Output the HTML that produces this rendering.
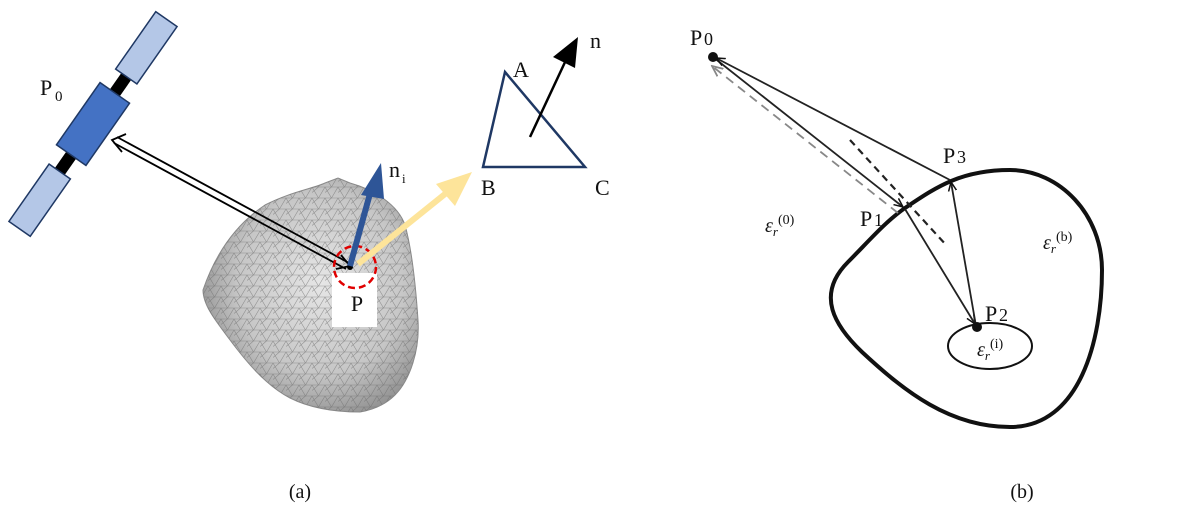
<!DOCTYPE html>
<html><head><meta charset="utf-8"><style>
html,body{margin:0;padding:0;background:#fff;}
svg{display:block;}
text{font-family:"Liberation Serif",serif;fill:#111;}
</style></head><body>
<svg width="1200" height="510" viewBox="0 0 1200 510" xmlns="http://www.w3.org/2000/svg">
<defs>
  <radialGradient id="ag" cx="0.55" cy="0.45" r="0.6">
    <stop offset="0" stop-color="#e6e6e6"/>
    <stop offset="0.65" stop-color="#c6c6c6"/>
    <stop offset="1" stop-color="#909090"/>
  </radialGradient>
  <pattern id="mesh" width="13" height="11" patternUnits="userSpaceOnUse">
    <path d="M0 0 L13 0 M0 11 L13 11 M0 0 L6.5 11 L13 0 M0 5.5 L6.5 0" stroke="#6a6a6a" stroke-width="0.6" fill="none" opacity="0.6"/>
  </pattern>
  <clipPath id="ac"><path d="M203,290 C215,255 235,225 265,205 C290,192 315,188 325,183 L338,178 350,183 C375,190 398,205 405,225 C412,250 416,290 418,320 C420,350 410,380 395,395 C385,405 372,410 360,412 C335,412 310,408 290,398 C265,385 245,360 230,340 C215,320 203,305 203,290 Z"/></clipPath>
  <marker id="ah" viewBox="0 0 10 10" refX="9" refY="5" markerWidth="10" markerHeight="10" markerUnits="userSpaceOnUse" orient="auto">
    <path d="M0,1 L9,5 L0,9" fill="none" stroke="#111" stroke-width="1.5"/>
  </marker>
  <marker id="ahg" viewBox="0 0 10 10" refX="9" refY="5" markerWidth="12" markerHeight="12" markerUnits="userSpaceOnUse" orient="auto">
    <path d="M0,1 L9,5 L0,9" fill="none" stroke="#888" stroke-width="1.5"/>
  </marker>
</defs>

<!-- (a) asteroid -->
<path d="M203,290 C215,255 235,225 265,205 C290,192 315,188 325,183 L338,178 350,183 C375,190 398,205 405,225 C412,250 416,290 418,320 C420,350 410,380 395,395 C385,405 372,410 360,412 C335,412 310,408 290,398 C265,385 245,360 230,340 C215,320 203,305 203,290 Z" fill="url(#ag)" stroke="#8a8a8a" stroke-width="1"/>
<rect x="195" y="170" width="230" height="250" fill="url(#mesh)" clip-path="url(#ac)"/>
<rect x="332" y="273" width="45" height="54" fill="#fff"/>
<text x="357" y="311" font-size="22" text-anchor="middle">P</text>

<!-- satellite -->
<g transform="translate(93,124) rotate(-55)">
  <rect x="38" y="-6" width="22" height="12" fill="#000"/>
  <rect x="-60" y="-6" width="22" height="12" fill="#000"/>
  <rect x="58" y="-13" width="70" height="26" fill="#b4c7e7" stroke="#1f3864" stroke-width="1.5"/>
  <rect x="-128" y="-13" width="70" height="26" fill="#b4c7e7" stroke="#1f3864" stroke-width="1.5"/>
  <rect x="-38" y="-18" width="76" height="36" fill="#4472c4" stroke="#1f3864" stroke-width="1.5"/>
</g>
<text x="40" y="95" font-size="22">P</text><text x="55" y="101" font-size="15">0</text>

<!-- double arrow -->
<g stroke="#000" stroke-width="1.8" fill="none">
  <line x1="114" y1="143" x2="346" y2="269"/>
  <line x1="117" y1="137" x2="349" y2="263"/>
  <path d="M126,134 L112,140 L122,152"/>
  <path d="M336,269 L350,266 L341,255"/>
</g>

<!-- red dashed circle -->
<circle cx="355" cy="267" r="21" fill="none" stroke="#e00000" stroke-width="2.5" stroke-dasharray="7,4"/>
<circle cx="350" cy="267" r="3" fill="#000"/>

<!-- blue n_i arrow -->
<line x1="350" y1="266" x2="371" y2="190" stroke="#2e5597" stroke-width="6"/>
<polygon points="381,163 361,195 384,199" fill="#2e5597"/>
<text x="389" y="177" font-size="22">n</text><text x="402" y="183" font-size="13">i</text>

<!-- yellow arrow -->
<line x1="358" y1="264" x2="450" y2="190" stroke="#fde49a" stroke-width="6"/>
<polygon points="472,172 436,184 455,206" fill="#fde49a"/>

<!-- triangle -->
<polygon points="505,72 483,167 585,167" fill="none" stroke="#1f3864" stroke-width="2.5"/>
<line x1="530" y1="137" x2="566" y2="60" stroke="#000" stroke-width="2.5"/>
<polygon points="578,37 553,57 575,68" fill="#000"/>
<text x="513" y="77" font-size="22">A</text>
<text x="481" y="195" font-size="22">B</text>
<text x="595" y="195" font-size="22">C</text>
<text x="590" y="48" font-size="22">n</text>

<text x="300" y="498" font-size="20" text-anchor="middle">(a)</text>
<text x="1022" y="498" font-size="20" text-anchor="middle">(b)</text>

<!-- (b) -->
<path d="M905,208 C935,188 960,170 1010,170 C1060,170 1102,215 1102,270 C1102,340 1080,427 1010,427 C950,427 905,392 862,352 C835,326 815,295 848,262 C868,242 885,222 905,208 Z" fill="none" stroke="#111" stroke-width="4"/>
<ellipse cx="990" cy="346" rx="42" ry="23" fill="none" stroke="#111" stroke-width="2"/>

<g stroke="#222" stroke-width="1.8" fill="none">
  <line x1="713" y1="57" x2="903" y2="207" marker-end="url(#ah)"/>
  <line x1="950" y1="180" x2="716" y2="58" marker-end="url(#ah)"/>
  <line x1="905" y1="209" x2="975" y2="324" marker-end="url(#ah)"/>
  <line x1="976" y1="326" x2="951" y2="182" marker-end="url(#ah)"/>
  <line x1="850" y1="140" x2="947" y2="246" stroke-width="2.2" stroke-dasharray="7,5"/>
</g>
<line x1="898" y1="213" x2="712" y2="66" stroke="#888" stroke-width="1.8" stroke-dasharray="9,6" marker-end="url(#ahg)"/>
<circle cx="713" cy="57" r="5" fill="#111"/>
<circle cx="977" cy="327" r="5" fill="#111"/>

<text x="690" y="45" font-size="22">P</text><text x="704" y="45" font-size="18">0</text>
<text x="943" y="163" font-size="22">P</text><text x="957" y="163" font-size="18">3</text>
<text x="860" y="226" font-size="22">P</text><text x="874" y="226" font-size="18">1</text>
<text x="985" y="321" font-size="22">P</text><text x="999" y="321" font-size="18">2</text>
<text x="765" y="232" font-size="20" font-style="italic">ε<tspan font-size="13" dy="4">r</tspan><tspan font-size="14" font-style="normal" dy="-12">(0)</tspan></text>
<text x="1043" y="249" font-size="20" font-style="italic">ε<tspan font-size="13" dy="4">r</tspan><tspan font-size="14" font-style="normal" dy="-12">(b)</tspan></text>
<text x="977" y="356" font-size="20" font-style="italic">ε<tspan font-size="13" dy="4">r</tspan><tspan font-size="14" font-style="normal" dy="-12">(i)</tspan></text>
</svg>
</body></html>
